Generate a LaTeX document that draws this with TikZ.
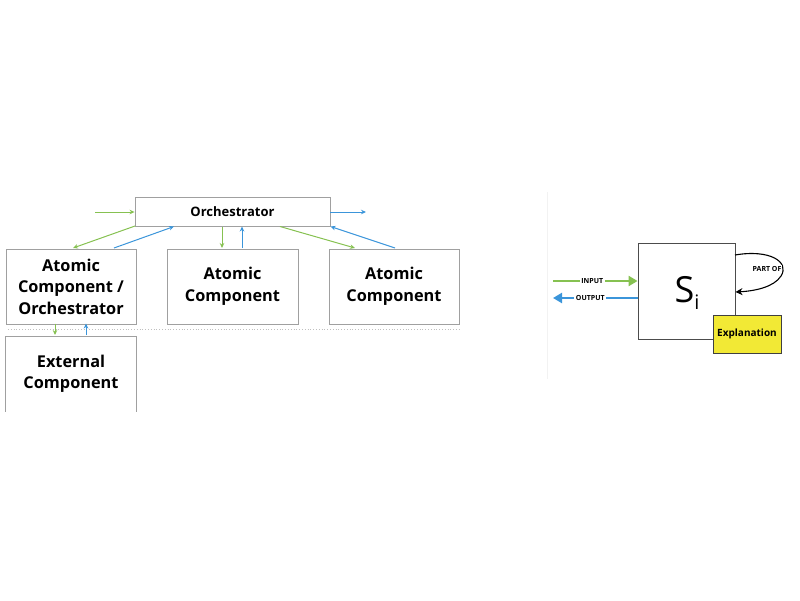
\documentclass[tikz,border=0pt]{standalone}
\usepackage{fontspec}
\setmainfont{Open Sans}
\usetikzlibrary{arrows.meta}
\definecolor{gr}{HTML}{86C151}
\definecolor{bl}{HTML}{3B95DA}
\definecolor{bx}{HTML}{A0A0A0}
\definecolor{yel}{HTML}{F2E935}
\begin{document}
\begin{tikzpicture}[x=1pt,y=-1pt,
  box/.style={draw=bx,line width=0.9pt,inner sep=0pt,align=center,font=\bfseries\fontsize{16.3}{21.5}\selectfont},
  ga/.style={draw=gr,line width=1pt,-{Stealth[length=5pt,width=4.5pt]}},
  ba/.style={draw=bl,line width=1pt,-{Stealth[length=5pt,width=4.5pt]}},
  small/.style={font=\bfseries\fontsize{7}{8}\selectfont,fill=white,text=black,inner sep=1.5pt}]
\useasboundingbox (0,0) rectangle (800,600);
% left part
\node[box,minimum width=195pt,minimum height=29pt,font=\bfseries\fontsize{13}{14}\selectfont] (orch) at (232.5,211.5) {Orchestrator};
\node[box,minimum width=130pt,minimum height=75pt] (a1) at (71,286.5) {Atomic\\Component /\\Orchestrator};
\node[box,minimum width=131pt,minimum height=75pt] (a2) at (232.5,286.5) {Atomic\\Component};
\node[box,minimum width=130pt,minimum height=75pt] (a3) at (394,286.5) {Atomic\\Component};
\node[inner sep=0pt,minimum width=130pt,minimum height=75pt,align=center,font=\bfseries\fontsize{16.3}{21.5}\selectfont] (ext) at (71,374) {External\\Component};
\draw[bx,line width=0.9pt] (ext.south west) -- (ext.north west) -- (ext.north east) -- (ext.south east);
\coordinate (dl) at (8,329);
\coordinate (dr) at (460,329);
\draw[black!25,line width=0.8pt,dotted] (dl) -- (dr);
\coordinate (vt) at (547,192);
\coordinate (vb) at (547,379);
\draw[black!5,line width=0.8pt] (vt) -- (vb);
\coordinate (inL) at (95,212);
\coordinate (outR) at (366,212);
\draw[ga] (inL) -- (orch.west |- inL);
\draw[ba] (orch.east |- outR) -- (outR);
\draw[ga] (135,226) -- (73,248);
\draw[ba] (114,248) -- (174,226.5);
\draw[ga] (222,226.5) -- (222,248);
\draw[ba] (242,248) -- (242,226.5);
\draw[ga] (280,226.5) -- (355,248);
\draw[ba] (395,248) -- (330.5,226.5);
\draw[ga] (55,323.5) -- (55,335);
\draw[ba] (86,335) -- (86,323.5);
% right part
\node[draw=black!70,line width=0.9pt,minimum width=97pt,minimum height=96pt,inner sep=0pt] (s) at (686.5,291) {};
\node[font=\fontsize{36}{40}\selectfont,inner sep=0pt] (slab) at (687,293) {S\raisebox{-0.35ex}{\fontsize{20}{22}\selectfont i}};
\node[draw=black!75,fill=yel,line width=0.8pt,minimum width=68pt,minimum height=38pt,inner sep=0pt,font=\bfseries\fontsize{10}{12}\selectfont] (ex) at (747,334) {Explanation};
\coordinate (i0) at (553,281);
\coordinate (o1) at (553,298);
\draw[gr,line width=2.8pt,-{Triangle[length=9pt,width=10pt]}] (i0) -- (s.west |- i0) node[midway,small,xshift=-3pt] {INPUT};
\draw[bl,line width=2.8pt,-{Triangle[length=9pt,width=10pt]}] (s.west |- o1) -- (o1) node[midway,small,xshift=-5pt] {OUTPUT};
\coordinate (p0) at (735,255);
\coordinate (p1) at (735.5,292);
\draw[black,line width=1.1pt,-{Stealth[length=7pt,width=7pt]}] (p0) .. controls (770,249) and (790,262) .. (781,276) .. controls (774,287) and (755,291) .. (p1);
\node[small,fill=white,inner sep=1pt] (po) at (767,269) {PART OF};
\end{tikzpicture}
\end{document}
